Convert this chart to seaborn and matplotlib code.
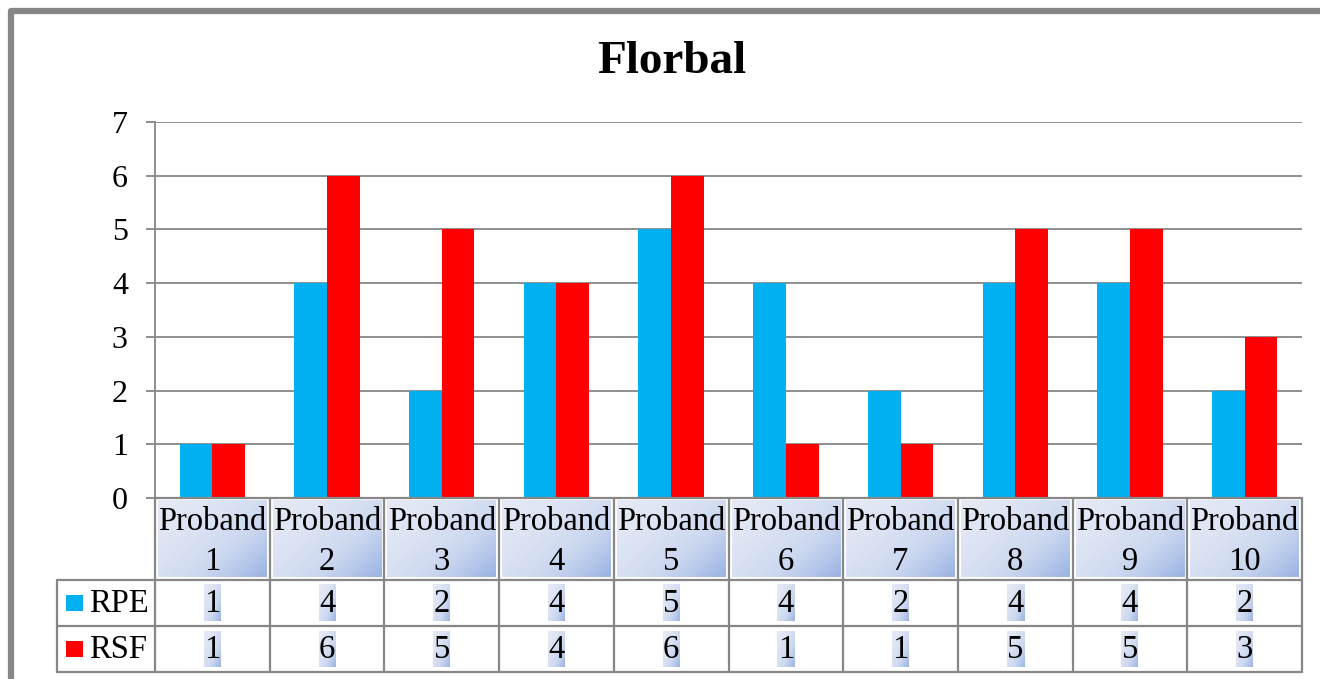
import numpy as np
import pandas as pd
import matplotlib
matplotlib.use("Agg")
import matplotlib.pyplot as plt
import seaborn as sns
from matplotlib.colors import LinearSegmentedColormap
from matplotlib.patches import Rectangle

# chart data
categories = [f"Proband\n{i}" for i in range(1, 11)]
series_names = ["RPE", "RSF"]
rpe_values = [1, 4, 2, 4, 5, 4, 2, 4, 4, 2]
rsf_values = [1, 6, 5, 4, 6, 1, 1, 5, 5, 3]
colors = {"RPE": "#00B0F0", "RSF": "#FF0000"}
title = "Florbal"

sns.set_theme(style="white")
plt.rcParams["font.family"] = ["Liberation Serif", "DejaVu Serif"]
plt.rcParams["text.color"] = "black"

W, H = 1320, 679
fig = plt.figure(figsize=(W / 100, H / 100), dpi=100)
fig.patch.set_facecolor("white")

def fx(px):
    return px / W

def fy(py):
    return 1 - py / H

grid_col = "#878787"

# outer frame
fig.patches.append(Rectangle((fx(11), fy(700)), fx(1400), fy(11) - fy(700),
                             transform=fig.transFigure, fill=False,
                             edgecolor=grid_col, linewidth=4.5,
                             joinstyle="round", zorder=0))

# main bar axes
L, R, T, B = 155, 1302, 122, 498
ax = fig.add_axes([fx(L), fy(B), fx(R - L), fy(T) - fy(B)])
df = pd.DataFrame({
    "cat": categories * 2,
    "series": ["RPE"] * 10 + ["RSF"] * 10,
    "value": rpe_values + rsf_values,
})
sns.barplot(data=df, x="cat", y="value", hue="series", palette=colors,
            width=0.57, gap=0, saturation=1, ax=ax, legend=False,
            edgecolor="none", linewidth=0, zorder=3)
ax.set_xlim(-0.5, 9.5)
ax.set_ylim(0, 7)
ax.set_yticks(range(0, 8))
ax.yaxis.grid(True, color=grid_col, linewidth=1.3, zorder=0)
ax.set_axisbelow(True)
ax.set_xlabel("")
ax.set_ylabel("")
ax.set_xticks([])
for s in ["top", "right", "bottom"]:
    ax.spines[s].set_visible(False)
ax.spines["left"].set_color(grid_col)
ax.spines["left"].set_linewidth(1.3)
ax.tick_params(axis="y", left=True, length=6.5, width=1.3, color=grid_col,
               pad=13, labelsize=23, labelcolor="black", direction="out")

# data table axes
TL, TB = 57, 672
cat_w = (R - L) / 10
xmin = -0.5 - (L - TL) / cat_w
tab = fig.add_axes([fx(TL), fy(TB), fx(R - TL), fy(B) - fy(TB)])
tab.set_xlim(xmin, 9.5)
tab.set_ylim(TB - B, 0)
tab.axis("off")

hdr_h, row1, row2 = 82, 128, 174
lw = 1.6
tab.plot([-0.5, 9.5], [0, 0], color=grid_col, lw=lw, clip_on=False)
for yy in [hdr_h, row1, row2]:
    tab.plot([xmin, 9.5], [yy, yy], color=grid_col, lw=lw, clip_on=False)
for k in range(11):
    tab.plot([k - 0.5, k - 0.5], [0, row2], color=grid_col, lw=lw, clip_on=False)
tab.plot([xmin, xmin], [hdr_h, row2], color=grid_col, lw=lw, clip_on=False)

grad_cmap = LinearSegmentedColormap.from_list("hdr", ["#E4E9F5", "#CCD8F0", "#9AB3E3"])
u = np.linspace(0, 1, 80)
grad = (u[None, :] * 0.55 + u[:, None] * 0.45) ** 1.6

inset = 3 / cat_w
for k, lab in enumerate(categories):
    tab.imshow(grad, cmap=grad_cmap, aspect="auto", interpolation="bilinear",
               extent=(k - 0.5 + inset, k + 0.5 - inset, hdr_h - 3, 3), zorder=1)
    tab.text(k, 44, lab, ha="center", va="center", fontsize=23.5,
             linespacing=1.4, zorder=3)

hl_w = 17 / cat_w
for vals, (y0, y1) in [(rpe_values, (hdr_h, row1)), (rsf_values, (row1, row2))]:
    for k, v in enumerate(vals):
        tab.imshow(grad, cmap=grad_cmap, aspect="auto", interpolation="bilinear",
                   extent=(k - hl_w / 2, k + hl_w / 2, y1 - 5, y0 + 5), zorder=1)
        tab.text(k, (y0 + y1) / 2 + 1, str(v), ha="center", va="center",
                 fontsize=23.5, zorder=3)

# legend keys in the table
key_w = 17 / cat_w
for name, (y0, y1) in zip(series_names, [(hdr_h, row1), (row1, row2)]):
    yc = (y0 + y1) / 2
    tab.add_patch(Rectangle((xmin + 9 / cat_w, yc - 8), key_w, 16,
                            facecolor=colors[name], edgecolor="none", zorder=2))
    tab.text(xmin + 32 / cat_w, yc + 1, name, ha="left", va="center",
             fontsize=23.5, zorder=3)
tab.set_xlim(xmin, 9.5)
tab.set_ylim(TB - B, 0)

fig.text(fx(672), fy(62), title, ha="center", va="center", fontsize=34,
         fontweight="bold")

fig.savefig("out.png", dpi=100)
